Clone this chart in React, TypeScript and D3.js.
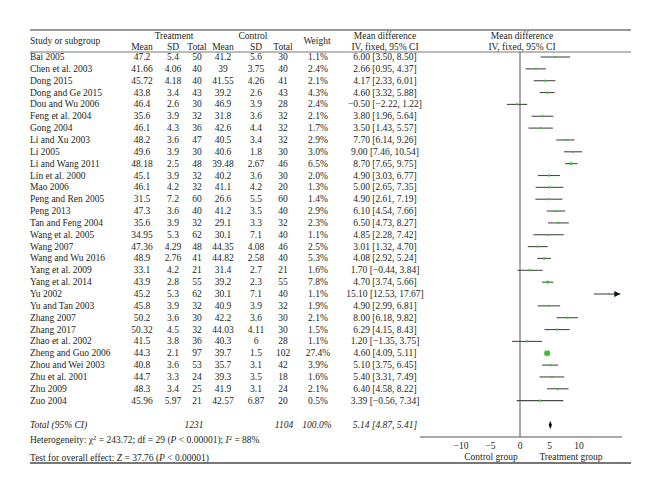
import React from "react";
import * as d3 from "d3";

const studies = ["Bai 2005","Chen et al. 2003","Dong 2015","Dong and Ge 2015","Dou and Wu 2006","Feng et al. 2004","Gong 2004","Li and Xu 2003","Li 2005","Li and Wang 2011","Lin et al. 2000","Mao 2006","Peng and Ren 2005","Peng 2013","Tan and Feng 2004","Wang et al. 2005","Wang 2007","Wang and Wu 2016","Yang et al. 2009","Yang et al. 2014","Yu 2002","Yu and Tan 2003","Zhang 2007","Zhang 2017","Zhao et al. 2002","Zheng and Guo 2006","Zhou and Wei 2003","Zhu et al. 2001","Zhu 2009","Zuo 2004"];
const tMean = [47.2,41.66,45.72,43.8,46.4,35.6,46.1,48.2,49.6,48.18,45.1,46.1,31.5,47.3,35.6,34.95,47.36,48.9,33.1,43.9,45.2,45.8,50.2,50.32,41.5,44.3,40.8,44.7,48.3,45.96];
const tSD = [5.4,4.06,4.18,3.4,2.6,3.9,4.3,3.6,3.9,2.5,3.9,4.2,7.2,3.6,3.9,5.3,4.29,2.76,4.2,2.8,5.3,3.9,3.6,4.5,3.8,2.1,3.6,3.3,3.4,5.97];
const tTotal = [50,40,40,43,30,32,36,47,30,48,32,32,60,40,32,62,48,41,21,55,62,32,30,32,36,97,53,24,25,21];
const cMean = [41.2,39,41.55,39.2,46.9,31.8,42.6,40.5,40.6,39.48,40.2,41.1,26.6,41.2,29.1,30.1,44.35,44.82,31.4,39.2,30.1,40.9,42.2,44.03,40.3,39.7,35.7,39.3,41.9,42.57];
const cSD = [5.6,3.75,4.26,2.6,3.9,3.6,4.4,3.4,1.8,2.67,3.6,4.2,5.5,3.5,3.3,7.1,4.08,2.58,2.7,2.3,7.1,3.9,3.6,4.11,6,1.5,3.1,3.5,3.1,6.87];
const cTotal = [30,40,41,43,28,32,32,32,30,46,30,20,60,40,32,40,46,40,21,55,40,32,30,30,28,102,42,18,24,20];
const weights = [1.1,2.4,2.1,4.3,2.4,2.1,1.7,2.9,3.0,6.5,2.0,1.3,1.4,2.9,2.3,1.1,2.5,5.3,1.6,7.8,1.1,1.9,2.1,1.5,1.1,27.4,3.9,1.6,2.1,0.5];
const md = [6.00,2.66,4.17,4.60,-0.50,3.80,3.50,7.70,9.00,8.70,4.90,5.00,4.90,6.10,6.50,4.85,3.01,4.08,1.70,4.70,15.10,4.90,8.00,6.29,1.20,4.60,5.10,5.40,6.40,3.39];
const ciLow = [3.50,0.95,2.33,3.32,-2.22,1.96,1.43,6.14,7.46,7.65,3.03,2.65,2.61,4.54,4.73,2.28,1.32,2.92,-0.44,3.74,12.53,2.99,6.18,4.15,-1.35,4.09,3.75,3.31,4.58,-0.56];
const ciHigh = [8.50,4.37,6.01,5.88,1.22,5.64,5.57,9.26,10.54,9.75,6.77,7.35,7.19,7.66,8.27,7.42,4.70,5.24,3.84,5.66,17.67,6.81,9.82,8.43,3.75,5.11,6.45,7.49,8.22,7.34];
const totalTreat = 1231;
const totalControl = 1104;
const totalWeight = 100.0;
const totalMD = 5.14;
const totalLow = 4.87;
const totalHigh = 5.41;
const tickValues = [-10, -5, 0, 5, 10];
const axisDomain = [-17, 17];

const fmt2 = (v: number) => v.toFixed(2).replace("-", "\u2212");
const tickFmt = (v: number) => String(v).replace("-", "\u2212");

export default function App() {
  const W = 660, H = 494;
  const font = "'Liberation Serif', 'Times New Roman', serif";
  const fs = 9.5;
  const textColor = "#231f20";
  const lineColor = "#555";
  const x = d3.scaleLinear().domain(axisDomain).range([419.7, 620.3]);
  const y0 = 57, rowH = 11.85;
  const y = (i: number) => y0 + i * rowH;
  const cols = { tm: 142, tsd: 173, tt: 197, cm: 223, csd: 256, ct: 283, w: 318, ci: 385 };
  const leftX = 30, rightX = 631;
  const axisY = 437;
  const totalY = 425;
  const sq = d3.scaleSqrt().domain([0, 27.4]).range([0, 5.2]);

  const T = (props: any) => (
    <text fontFamily={font} fontSize={fs} fill={textColor} dominantBaseline="central" {...props} />
  );

  return (
    <svg width={W} height={H} style={{ position: "absolute", left: 0, top: 0, background: "#fff" }}>
      <rect width={W} height={H} fill="#fff" />
      {/* rules */}
      <line x1={leftX} x2={rightX} y1={30} y2={30} stroke="#777" strokeWidth={1.3} />
      <line x1={leftX} x2={rightX} y1={52} y2={52} stroke="#777" strokeWidth={1} />
      <line x1={leftX} x2={rightX} y1={463} y2={463} stroke="#777" strokeWidth={2} />

      {/* headers */}
      <T x={leftX} y={41}>Study or subgroup</T>
      <T x={174} y={35.5} textAnchor="middle">Treatment</T>
      <T x={253} y={35.5} textAnchor="middle">Control</T>
      <T x={cols.tm} y={46.5} textAnchor="middle">Mean</T>
      <T x={cols.tsd} y={46.5} textAnchor="middle">SD</T>
      <T x={cols.tt} y={46.5} textAnchor="middle">Total</T>
      <T x={cols.cm} y={46.5} textAnchor="middle">Mean</T>
      <T x={cols.csd} y={46.5} textAnchor="middle">SD</T>
      <T x={cols.ct} y={46.5} textAnchor="middle">Total</T>
      <T x={317} y={41} textAnchor="middle">Weight</T>
      <T x={cols.ci} y={35.5} textAnchor="middle">Mean difference</T>
      <T x={cols.ci} y={46.5} textAnchor="middle">IV, fixed, 95% CI</T>
      <T x={522} y={35.5} textAnchor="middle">Mean difference</T>
      <T x={522} y={46.5} textAnchor="middle">IV, fixed, 95% CI</T>

      {/* zero line */}
      <line x1={x(0)} x2={x(0)} y1={52} y2={axisY} stroke={lineColor} strokeWidth={1} />

      {/* rows */}
      {studies.map((s, i) => {
        const yy = y(i);
        const hiClip = Math.min(ciHigh[i], axisDomain[1]);
        const loClip = Math.max(ciLow[i], axisDomain[0]);
        const side = Math.max(2, sq(weights[i]));
        return (
          <g key={s}>
            <T x={leftX} y={yy}>{s}</T>
            <T x={cols.tm} y={yy} textAnchor="middle">{String(tMean[i])}</T>
            <T x={cols.tsd} y={yy} textAnchor="middle">{String(tSD[i])}</T>
            <T x={cols.tt} y={yy} textAnchor="middle">{String(tTotal[i])}</T>
            <T x={cols.cm} y={yy} textAnchor="middle">{String(cMean[i])}</T>
            <T x={cols.csd} y={yy} textAnchor="middle">{String(cSD[i])}</T>
            <T x={cols.ct} y={yy} textAnchor="middle">{String(cTotal[i])}</T>
            <T x={cols.w} y={yy} textAnchor="middle">{weights[i].toFixed(1) + "%"}</T>
            <T x={cols.ci} y={yy} textAnchor="middle">{`${fmt2(md[i])} [${fmt2(ciLow[i])}, ${fmt2(ciHigh[i])}]`}</T>
            <line x1={x(loClip)} x2={x(hiClip)} y1={yy} y2={yy} stroke="#4a4a4a" strokeWidth={1.1} />
            {ciHigh[i] > axisDomain[1] && (
              <path d={`M${x(axisDomain[1]) - 6},${yy - 3} L${x(axisDomain[1])},${yy} L${x(axisDomain[1]) - 6},${yy + 3} Z`} fill="#111" />
            )}
            <rect x={x(md[i]) - side / 2} y={yy - side / 2} width={side} height={side} fill="#2fc62f" />
          </g>
        );
      })}

      {/* total */}
      <T x={leftX} y={totalY} fontStyle="italic">Total (95% CI)</T>
      <T x={cols.tt - 3} y={totalY} textAnchor="middle" fontStyle="italic">{String(totalTreat)}</T>
      <T x={cols.ct + 1} y={totalY} textAnchor="middle" fontStyle="italic">{String(totalControl)}</T>
      <T x={cols.w - 1} y={totalY} textAnchor="middle" fontStyle="italic">{totalWeight.toFixed(1) + "%"}</T>
      <T x={cols.ci} y={totalY} textAnchor="middle" fontStyle="italic">{`${fmt2(totalMD)} [${fmt2(totalLow)}, ${fmt2(totalHigh)}]`}</T>
      <path
        d={`M${x(totalLow)},${totalY} L${x(totalMD)},${totalY - 4} L${x(totalHigh)},${totalY} L${x(totalMD)},${totalY + 4} Z`}
        fill="#000"
      />

      {/* heterogeneity */}
      <text fontFamily={font} fontSize={fs} fill={textColor} x={leftX} y={440} dominantBaseline="central">
        Heterogeneity: χ<tspan dy={-3.5} fontSize={6.5}>2</tspan><tspan dy={3.5}> = 243.72; df = 29 (</tspan>
        <tspan fontStyle="italic">P</tspan> &lt; 0.00001); <tspan fontStyle="italic">I</tspan>
        <tspan dy={-3.5} fontSize={6.5}>2</tspan><tspan dy={3.5}> = 88%</tspan>
      </text>
      <text fontFamily={font} fontSize={fs} fill={textColor} x={leftX} y={458} dominantBaseline="central">
        Test for overall effect: <tspan fontStyle="italic">Z</tspan> = 37.76 (<tspan fontStyle="italic">P</tspan> &lt; 0.00001)
      </text>

      {/* axis */}
      <line x1={420} x2={622} y1={axisY} y2={axisY} stroke={lineColor} strokeWidth={1.2} />
      {tickValues.map((t) => (
        <T key={t} x={x(t)} y={446} textAnchor="middle">{tickFmt(t)}</T>
      ))}
      <T x={491} y={457} textAnchor="middle">Control group</T>
      <T x={571} y={457} textAnchor="middle">Treatment group</T>
    </svg>
  );
}
